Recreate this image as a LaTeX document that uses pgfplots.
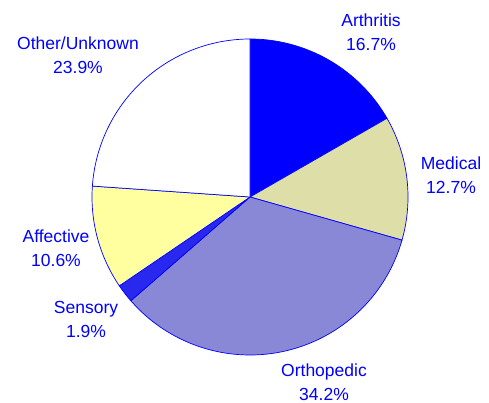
\documentclass[border=0pt]{standalone}
\usepackage{pgfplots}
\pgfplotsset{compat=1.18}
\usepackage{fontspec}
\setmainfont{Liberation Sans}
\definecolor{lblue}{RGB}{0,0,255}
\definecolor{cmed}{RGB}{222,222,168}
\definecolor{cortho}{RGB}{136,136,214}
\definecolor{csens}{RGB}{40,40,238}
\definecolor{caff}{RGB}{255,255,160}
\begin{document}
\begin{tikzpicture}
% shares (percent): Arthritis 16.7, Medical 12.7, Orthopedic 34.2, Sensory 1.9, Affective 10.6, Other/Unknown 23.9
% wedge angles = 90 - 3.6 * cumulative percent (clockwise from top)
\begin{axis}[
  width=489pt, height=403pt, scale only axis,
  xmin=0, xmax=489, ymin=0, ymax=403,
  axis lines=none, clip=false,
  every axis plot/.append style={line width=0.7pt, draw=lblue},
]
\path (axis cs:0,0) rectangle (axis cs:489,403);
\addplot[fill=lblue, domain=29.88:90, samples=60, variable=\t]
  ({250+158*cos(t)}, {206+158*sin(t)}) -- (axis cs:250,206) -- cycle;
\addplot[fill=cmed, domain=-15.84:29.88, samples=50, variable=\t]
  ({250+158*cos(t)}, {206+158*sin(t)}) -- (axis cs:250,206) -- cycle;
\addplot[fill=cortho, domain=-138.96:-15.84, samples=100, variable=\t]
  ({250+158*cos(t)}, {206+158*sin(t)}) -- (axis cs:250,206) -- cycle;
\addplot[fill=csens, domain=-145.8:-138.96, samples=10, variable=\t]
  ({250+158*cos(t)}, {206+158*sin(t)}) -- (axis cs:250,206) -- cycle;
\addplot[fill=caff, domain=-183.96:-145.8, samples=40, variable=\t]
  ({250+158*cos(t)}, {206+158*sin(t)}) -- (axis cs:250,206) -- cycle;
\addplot[fill=white, domain=-270:-183.96, samples=80, variable=\t]
  ({250+158*cos(t)}, {206+158*sin(t)}) -- (axis cs:250,206) -- cycle;

\begin{scope}[every node/.style={font=\fontsize{17.5}{24}\selectfont, text=lblue, align=center, inner sep=0pt}]
\node at (axis cs:371,371) {Arthritis\\16.7\%};
\node at (axis cs:451,228) {Medical\\12.7\%};
\node at (axis cs:324,21) {Orthopedic\\34.2\%};
\node at (axis cs:86,84) {Sensory\\1.9\%};
\node at (axis cs:56,155) {Affective\\10.6\%};
\node at (axis cs:78,348) {Other/Unknown\\23.9\%};
\end{scope}
\end{axis}
\end{tikzpicture}
\end{document}
